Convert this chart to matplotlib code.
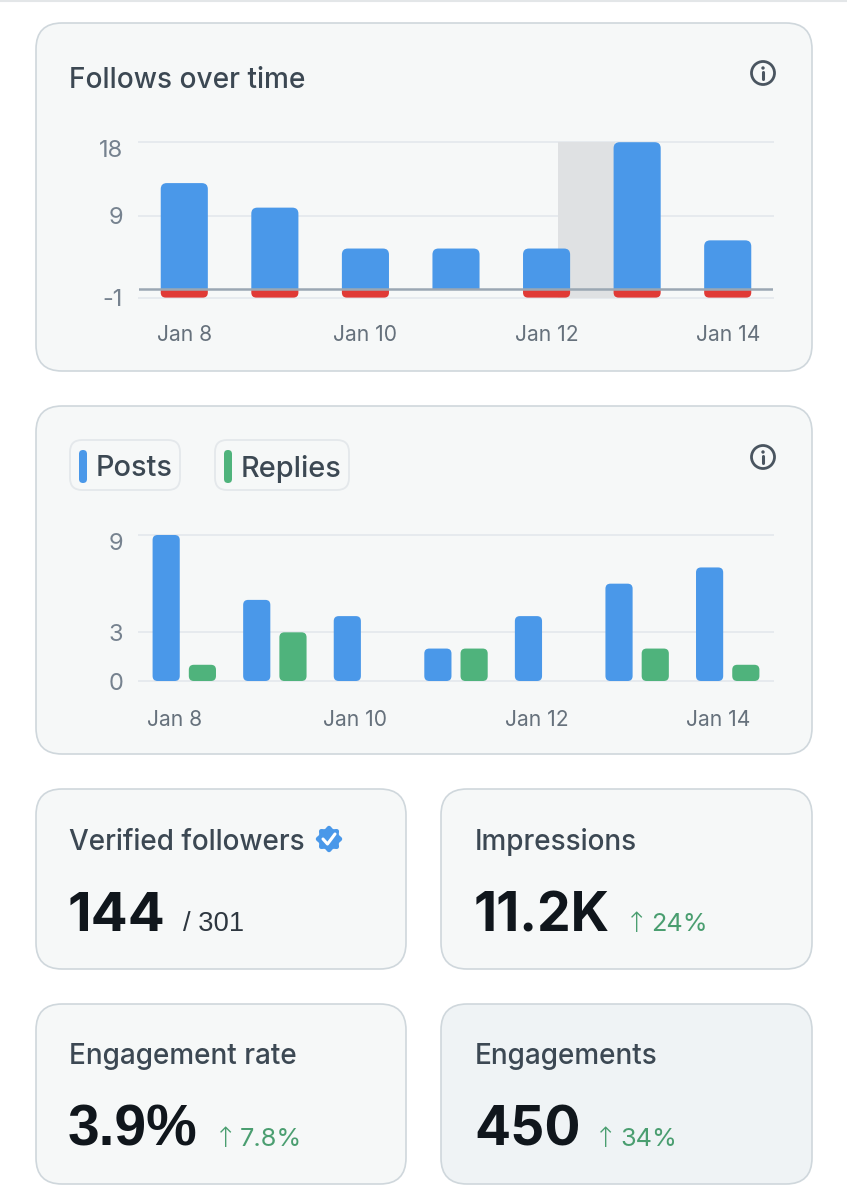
import numpy as np
import matplotlib
matplotlib.use('Agg')
import matplotlib.pyplot as plt
from matplotlib.patches import FancyBboxPatch, Circle, Polygon
from matplotlib.transforms import Bbox, TransformedBbox, Affine2D

# data
follow_days = ['Jan 8', '', 'Jan 10', '', 'Jan 12', '', 'Jan 14']
follows_gained = [13, 10, 5, 5, 5, 18, 6]
follows_lost = [-1, -1, -1, 0, -1, -1, -1]
follow_yticks = [-1, 9, 18]
posts = [9, 5, 4, 2, 4, 6, 7]
replies = [1, 3, 0, 2, 0, 2, 1]
post_yticks = [0, 3, 9]
card_titles = ['Verified followers', 'Impressions', 'Engagement rate', 'Engagements']
card_values = ['144', '11.2K', '3.9%', '450']
card_notes = ['/ 301', '24%', '7.8%', '34%']

BLUE = '#4a98e9'
RED = '#e03a36'
GREEN = '#4fb37c'
GRID = '#e6eaee'
CARD = '#f6f8f8'
EDGE = '#cfd7dc'
DARK = '#3c4853'
W, H = 847, 1200

plt.rcParams['font.family'] = ['Inter', 'DejaVu Sans']

fig = plt.figure(figsize=(W / 100, H / 100), dpi=100, facecolor='white')
bg = fig.add_axes([0, 0, 1, 1])
bg.set_xlim(0, W)
bg.set_ylim(H, 0)
bg.axis('off')


def card(x0, y0, x1, y1, color=CARD, r=26):
    bg.add_patch(FancyBboxPatch((x0, y0), x1 - x0, y1 - y0, boxstyle=f'round,pad=0,rounding_size={r}',
                                fc=color, ec=EDGE, lw=1.2))


def info_icon(cx, cy):
    bg.add_patch(Circle((cx, cy), 11.5, fc='none', ec='#4a5560', lw=2))
    bg.add_patch(Circle((cx, cy - 5), 1.7, fc='#4a5560', ec='none'))
    bg.plot([cx, cx], [cy - 1, cy + 6], color='#4a5560', lw=2.2, solid_capstyle='round')


def chart_axes(x0, y0, x1, y1):
    ax = fig.add_axes([x0 / W, 1 - y1 / H, (x1 - x0) / W, (y1 - y0) / H])
    ax.patch.set_alpha(0)
    for s in ax.spines.values():
        s.set_visible(False)
    ax.tick_params(length=0)
    return ax


def round_bars(ax, xs, tops, bottoms, width, color, r, z=3, clip=None):
    # ax.bar gives the positions, then each one is swapped for a rounded box
    bars = ax.bar(xs, np.array(tops) - np.array(bottoms), width, bottom=bottoms, color=color)
    bb = ax.get_position()
    xl = ax.get_xlim()
    yl = ax.get_ylim()
    px_x = bb.width * W / (xl[1] - xl[0])
    px_y = bb.height * H / (yl[1] - yl[0])
    for rect in bars:
        rect.set_visible(False)
        if rect.get_height() == 0:
            continue
        box = FancyBboxPatch((rect.get_x(), rect.get_y()), rect.get_width(), rect.get_height(),
                             boxstyle=f'round,pad=0,rounding_size={r / px_x}',
                             mutation_aspect=px_x / px_y, fc=color, ec='none', zorder=z)
        ax.add_patch(box)
        if clip is not None:
            # cuts the rounded end off where blue meets red
            box.set_clip_path(None)
            box.set_clip_box(TransformedBbox(Bbox([[xl[0], clip[0]], [xl[1], clip[1]]]), ax.transData))


def style_ticks(ax, yticks, xticks, xlabels, xpad):
    ax.set_yticks(yticks)
    ax.set_xticks(xticks)
    ax.set_xticklabels(xlabels)
    ax.set_yticklabels([str(t) for t in yticks])
    ax.tick_params(axis='y', labelsize=17, labelcolor='#76828f', pad=11.5)
    ax.tick_params(axis='x', labelsize=15.2, labelcolor='#66717c', pad=xpad)
    top = ax.get_yticklabels()[-1]
    top.set_va('top')
    top.set_transform(top.get_transform() + Affine2D().translate(0, 2))
    for t in yticks:
        ax.axhline(t, color=GRID, lw=1.4, zorder=1, clip_on=False)


# top strip of the page
bg.plot([0, W], [1, 1], color='#e3e6e8', lw=1.5)

card(36, 23, 812, 371)
card(36, 406, 812, 754)
card(36, 789, 406, 969)
card(441, 789, 812, 969)
card(36, 1004, 406, 1184)
card(441, 1004, 812, 1184, color='#eff3f5')

# follows chart
bg.text(69, 81, 'Follows over time', fontsize=20.2, color=DARK, weight='medium', va='center')
info_icon(763, 73)

ax1 = chart_axes(139, 142.2, 773, 297.6)
ax1.set_xlim(-0.5, 6.5)
ax1.set_ylim(-1, 18)
days = np.arange(len(follows_gained))
style_ticks(ax1, follow_yticks, days, follow_days, 19.7)
ax1.axvspan(4.13, 4.75, color='#dfe1e3', lw=0, zorder=1.5)
lost = np.array(follows_lost)
has_lost = lost < 0
round_bars(ax1, days[has_lost], [1] * has_lost.sum(), lost[has_lost], 0.52, RED, 5, z=2, clip=(-2, 0))
round_bars(ax1, days, follows_gained, [-1] * len(days), 0.52, BLUE, 6, clip=(0, 19))
ax1.axhline(0, color='#9ba7b3', lw=1.8, zorder=4)

# posts / replies chart
for x0, x1, label, color, tx in [(70, 180, 'Posts', BLUE, 96), (215, 349, 'Replies', GREEN, 241)]:
    bg.add_patch(FancyBboxPatch((x0, 440), x1 - x0, 50, boxstyle='round,pad=0,rounding_size=12',
                                fc=CARD, ec='#e4e8eb', lw=1.3))
    bg.add_patch(FancyBboxPatch((x0 + 9, 450), 8, 33, boxstyle='round,pad=0,rounding_size=4',
                                fc=color, ec='none'))
    bg.text(tx, 469, label, fontsize=20.8, color=DARK, weight='medium', va='center')
info_icon(763, 457)

ax2 = chart_axes(139, 535, 773, 681)
ax2.set_xlim(-0.5, 6.5)
ax2.set_ylim(0, 9)
days = np.arange(len(posts))
style_ticks(ax2, post_yticks, days - 0.11, follow_days, 21)
round_bars(ax2, days - 0.2, posts, [0] * len(days), 0.3, BLUE, 5)
round_bars(ax2, days + 0.2, replies, [0] * len(days), 0.3, GREEN, 5)

# stat cards
spots = [(69, 842, 945), (475, 842, 945), (69, 1057, 1160), (475, 1057, 1160)]
note_x = [183, 651, 240, 620]
value_size = [39.5, 38.5, 41, 38.5]
value_font = ['Inter', 'Inter', 'Liberation Sans', 'Inter']
for i, (x, ty, vy) in enumerate(spots):
    bg.text(x, ty, card_titles[i], fontsize=20.1, color=DARK, weight='medium', va='center')
    bg.text(x - 1, vy - 14, card_values[i], fontsize=value_size[i], color='#10161c', weight='bold',
            family=[value_font[i], 'DejaVu Sans'], va='baseline', ha='left')
    if i == 0:
        bg.text(note_x[i], vy - 14, card_notes[i], fontsize=19.7, color='#2e3740', va='baseline',
                family=['Liberation Sans', 'DejaVu Sans'])
    else:
        bg.text(note_x[i] - 26, vy - 13, '\u2191', fontsize=20, color='#4a9e70', va='baseline',
                family=['DejaVu Sans'], weight='light')
        bg.text(note_x[i], vy - 14, card_notes[i], fontsize=18.2, color='#4a9e70', va='baseline')

# verified badge
ang = np.linspace(0, 2 * np.pi, 160)
rad = 12 + 1.2 * np.cos(8 * ang)
bg.add_patch(Polygon(np.c_[329 + rad * np.cos(ang), 839 + rad * np.sin(ang)], fc=BLUE, ec='none'))
bg.plot([323, 327.5, 335], [839, 844, 834], color='white', lw=2.2, solid_capstyle='round')

fig.savefig('out.png', dpi=100)
